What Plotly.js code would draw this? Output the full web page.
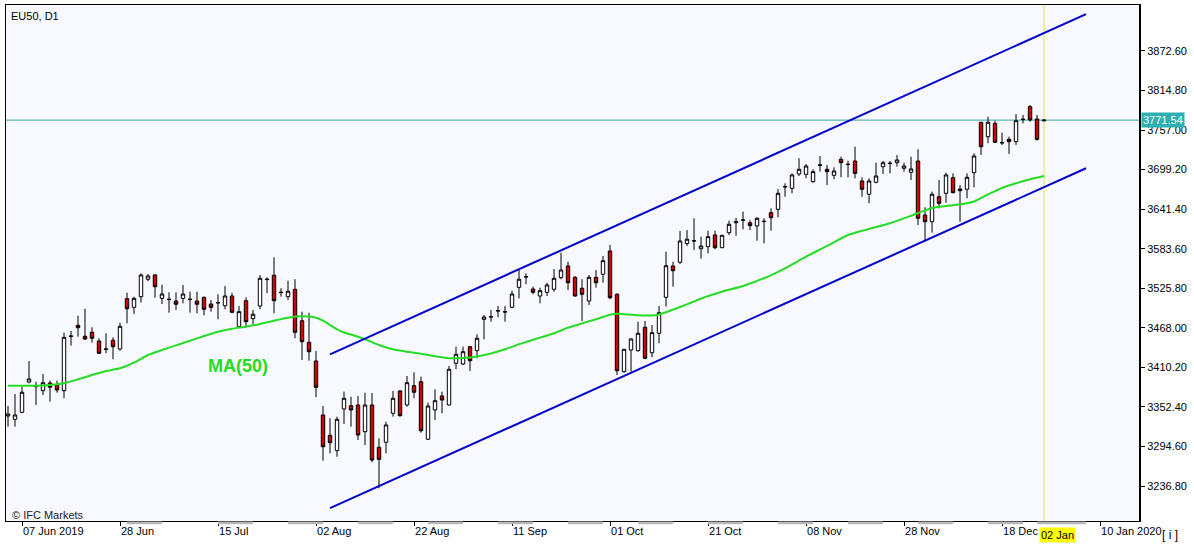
<!DOCTYPE html>
<html>
<head>
<meta charset="utf-8">
<script src="https://cdn.plot.ly/plotly-3.0.1.min.js"></script>
<style>
html,body{margin:0;padding:0;background:#fff;}
#chart{width:1194px;height:545px;}
</style>
</head>
<body>
<div id="chart"></div>
<script>
// ---- Data ----
const symbol = "EU50, D1";
const openP = [
3339.1,3334.3,3344.5,3388.8,3382.0,3376.1,3387.4,3384.4,3376.1,3455.5,
3471.7,3455.6,3461.5,3448.7,3436.5,3449.8,3437.0,3510.6,3498.0,3513.5,
3539.0,3545.2,3511.1,3509.2,3507.2,3511.1,3509.2,3507.2,3512.6,3502.8,
3504.3,3500.3,3514.5,3469.6,3507.6,3481.3,3499.9,3538.5,3544.8,3519.4,
3513.5,3524.3,3478.4,3446.8,3419.5,3340.6,3310.9,3288.4,3349.4,3354.2,
3355.2,3316.2,3355.2,3293.4,3300.7,3343.1,3375.7,3355.2,3383.4,3389.3,
3305.1,3347.9,3368.4,3355.2,3416.1,3415.1,3440.4,3434.6,3480.4,3483.8,
3492.5,3491.6,3498.0,3527.2,3542.2,3524.7,3514.5,3519.9,3524.3,3541.3,
3558.4,3541.8,3525.8,3507.2,3541.8,3546.2,3580.3,3517.0,3403.9,3435.6,
3434.6,3468.8,3431.6,3460.0,3512.6,3558.4,3563.8,3591.2,3594.8,3583.6,
3586.6,3603.7,3585.1,3607.0,3621.5,3625.1,3621.6,3616.8,3623.2,3636.3,
3641.2,3673.8,3671.9,3692.8,3692.4,3681.6,3705.5,3699.7,3690.9,3714.3,
3706.5,3711.8,3682.6,3663.2,3680.7,3703.5,3708.0,3709.3,3701.2,3695.3,
3711.8,3632.9,3623.1,3659.6,3664.6,3687.4,3670.9,3670.5,3694.7,3768.4,
3747.3,3766.9,3738.1,3743.5,3740.0,3772.3,3791.2,3773.2,3770.5];
const highP = [
3353.7,3371.3,3381.9,3419.5,3389.3,3400.5,3390.7,3390.7,3460.9,3463.4,
3485.7,3495.9,3468.8,3452.7,3460.0,3454.1,3475.5,3519.3,3513.5,3547.7,
3546.7,3546.7,3531.0,3519.9,3519.9,3530.6,3520.8,3520.8,3513.5,3508.7,
3517.0,3529.1,3519.3,3499.9,3512.6,3494.0,3545.2,3541.8,3571.1,3525.8,
3536.9,3539.0,3491.6,3490.1,3434.1,3353.7,3335.8,3338.1,3374.6,3367.3,
3368.4,3373.2,3372.7,3306.5,3330.8,3375.7,3377.1,3397.6,3403.0,3396.6,
3358.6,3378.1,3374.6,3412.2,3440.4,3440.4,3441.4,3458.5,3486.7,3494.0,
3499.9,3499.9,3522.3,3552.5,3547.7,3528.1,3526.6,3533.9,3554.0,3577.8,
3564.6,3543.7,3539.0,3545.2,3552.5,3573.0,3589.1,3518.5,3437.0,3452.7,
3476.9,3478.0,3472.1,3499.9,3579.3,3564.6,3609.5,3611.0,3628.1,3601.2,
3610.0,3610.0,3603.7,3624.6,3628.5,3637.8,3625.6,3629.5,3628.1,3642.7,
3670.9,3679.2,3693.8,3715.8,3707.5,3699.7,3719.1,3706.0,3702.6,3718.1,
3712.3,3732.7,3688.0,3686.5,3709.3,3711.8,3711.8,3720.6,3709.3,3718.1,
3728.9,3644.2,3667.0,3684.1,3694.7,3693.8,3676.7,3693.8,3723.1,3769.0,
3776.6,3770.7,3753.2,3747.3,3780.5,3779.1,3793.7,3779.1,3773.0];
const lowP = [
3323.5,3323.5,3343.1,3386.9,3355.2,3369.8,3360.0,3373.2,3365.0,3441.9,
3455.0,3450.2,3446.3,3429.5,3430.8,3422.0,3434.6,3474.6,3488.2,3504.8,
3536.0,3512.0,3502.8,3490.1,3494.0,3503.8,3490.1,3489.2,3486.3,3491.6,
3480.4,3495.1,3489.2,3467.3,3468.8,3473.1,3495.1,3518.5,3489.2,3513.5,
3508.7,3452.7,3421.0,3419.9,3366.5,3273.8,3284.6,3279.6,3327.4,3323.5,
3304.0,3296.7,3271.5,3233.4,3284.6,3338.1,3338.1,3352.7,3365.0,3314.7,
3304.0,3333.3,3343.1,3354.5,3407.4,3413.6,3404.9,3423.5,3451.2,3476.9,
3483.4,3476.9,3496.5,3511.1,3531.6,3517.0,3503.8,3514.5,3520.8,3539.0,
3523.3,3513.5,3478.0,3501.4,3526.6,3533.9,3509.7,3399.0,3402.4,3403.9,
3433.1,3422.0,3424.9,3445.4,3498.9,3528.1,3561.3,3587.6,3581.7,3569.0,
3576.9,3582.8,3584.6,3603.7,3602.6,3612.0,3611.0,3595.3,3591.5,3610.0,
3629.5,3659.6,3664.6,3689.9,3686.5,3680.1,3696.2,3676.7,3685.1,3688.0,
3688.0,3686.5,3659.6,3650.0,3679.2,3692.8,3693.8,3703.5,3696.2,3684.1,
3618.3,3593.9,3607.0,3642.7,3650.9,3664.6,3623.1,3657.3,3673.4,3720.6,
3737.7,3738.6,3735.2,3722.1,3735.2,3766.9,3769.3,3741.5,3769.5];
const closeP = [
3342.0,3340.6,3373.8,3393.2,3383.0,3387.8,3381.1,3377.1,3454.1,3456.0,
3468.2,3451.7,3452.7,3430.8,3437.0,3440.4,3470.2,3495.9,3511.1,3545.2,
3543.7,3528.1,3517.4,3509.7,3502.4,3517.4,3509.7,3502.4,3495.1,3498.0,
3504.8,3514.5,3490.7,3491.6,3476.9,3487.8,3540.4,3539.0,3507.6,3519.9,
3521.4,3461.5,3447.7,3433.1,3381.1,3294.2,3300.1,3334.3,3365.0,3347.9,
3311.3,3355.2,3274.8,3275.8,3326.0,3365.0,3339.6,3387.8,3373.8,3317.6,
3353.7,3361.5,3362.5,3407.4,3429.3,3433.1,3419.9,3452.7,3483.8,3484.2,
3493.0,3491.1,3517.4,3539.0,3542.7,3519.9,3522.3,3530.6,3540.4,3552.5,
3533.9,3514.5,3517.0,3541.8,3533.9,3566.1,3512.0,3405.3,3436.6,3451.7,
3460.0,3423.5,3460.9,3490.1,3558.8,3551.5,3594.9,3597.5,3595.3,3587.6,
3601.2,3585.1,3603.2,3619.3,3623.1,3625.6,3617.3,3628.1,3623.7,3629.0,
3664.6,3674.3,3691.4,3699.7,3704.5,3696.2,3706.0,3696.2,3697.2,3709.3,
3707.0,3693.8,3670.5,3682.6,3689.9,3709.3,3708.5,3713.3,3704.5,3700.2,
3628.1,3623.1,3663.2,3650.0,3691.4,3665.5,3668.4,3688.0,3719.1,3732.7,
3768.4,3739.2,3738.6,3740.0,3770.7,3772.8,3771.8,3743.5,3771.54];

// MA(50) at these bar numbers
const maBar = [0,4,6,8,10,12,14,16,18,20,22,24,26,28,30,32,34,36,38,40,42,44,45,46,47,48,49,51,53,55,57,59,61,63,65,67,69,71,73,74,76,78,80,82,84,86,87,88,90,92,93,94,96,98,99,102,105,108,111,114,117,120,123,126,129,132,135,137,138,140,142,144,146,148];
const maVal = [3383.4,3383.4,3384.4,3386.9,3392.7,3399.0,3404.9,3408.8,3417.0,3428.3,3435.6,3442.4,3449.2,3456.0,3462.3,3466.7,3469.6,3473.6,3478.4,3482.8,3484.8,3482.8,3478.4,3472.1,3465.8,3461.2,3458.2,3451.2,3442.9,3436.6,3433.0,3430.0,3426.5,3423.5,3423.9,3426.1,3430.5,3436.6,3443.9,3447.3,3453.6,3460.0,3468.2,3474.5,3480.5,3487.0,3488.6,3487.9,3486.3,3486.0,3487.5,3490.8,3498.4,3506.5,3510.9,3520.8,3529.1,3540.4,3555.0,3572.0,3587.6,3603.7,3612.4,3620.8,3631.7,3643.1,3647.2,3650.0,3652.6,3662.9,3672.4,3679.2,3685.1,3689.9];

// Trend channel (two end points each)
const channelBar = [46, 154];
const channelUpper = [3429.3, 3926.4];
const channelLower = [3204.5, 3701.2];

const lastPrice = 3771.54;
const cursorBar = 148;
const cursorLabel = "02 Jan";

const dateTickBars = [2,16,30,44,58,72,86,100,114,128,142,156];
const dateTickLabels = ["07 Jun 2019","28 Jun","15 Jul","02 Aug","22 Aug","11 Sep","01 Oct","21 Oct","08 Nov","28 Nov","18 Dec","10 Jan 2020"];
const priceTicks = [3236.8,3294.6,3352.4,3410.2,3468.0,3525.8,3583.6,3641.4,3699.2,3757.0,3814.8,3872.6];

// alternate-week marks along the time axis (first bar, last bar)
const weekMarkStart = [17,30,40,50,60,70,80,90,100,110,120,130,140,147];
const weekMarkEnd   = [22,35,45,55,65,75,85,95,105,115,125,135,145,154];

const barIndex = closeP.map((_, i) => i);

const FONT = "Liberation Sans, Arial, sans-serif";

const traces = [
  {
    type: "candlestick",
    x: barIndex, open: openP, high: highP, low: lowP, close: closeP,
    increasing: {line: {color: "#000000", width: 1}, fillcolor: "#ffffff"},
    decreasing: {line: {color: "#000000", width: 1}, fillcolor: "#d40000"},
    whiskerwidth: 0,
    hoverinfo: "skip",
    showlegend: false
  },
  {
    type: "scatter", mode: "lines",
    x: maBar, y: maVal,
    line: {color: "#26dd26", width: 2, shape: "spline", smoothing: 0.6},
    hoverinfo: "skip", showlegend: false
  },
  {
    type: "scatter", mode: "lines",
    x: channelBar, y: channelUpper,
    line: {color: "#0000cc", width: 2},
    hoverinfo: "skip", showlegend: false
  },
  {
    type: "scatter", mode: "lines",
    x: channelBar, y: channelLower,
    line: {color: "#0000cc", width: 2},
    hoverinfo: "skip", showlegend: false
  }
];

const shapes = [
  {type: "line", xref: "paper", x0: 0, x1: 1, yref: "y", y0: lastPrice, y1: lastPrice,
   line: {color: "#3aa6a6", width: 1}, layer: "below"},
  {type: "line", xref: "x", x0: cursorBar, x1: cursorBar, yref: "paper", y0: 0, y1: 1,
   line: {color: "#e4e44a", width: 1}, layer: "below"},
  {type: "line", xref: "paper", x0: 1, x1: 1, yref: "paper", y0: 0, y1: 1,
   line: {color: "#000000", width: 2}}
];
weekMarkStart.forEach((s, k) => {
  shapes.push({type: "rect", xref: "x", x0: s, x1: weekMarkEnd[k], yref: "paper", y0: -0.0065, y1: -0.001,
    line: {width: 0}, fillcolor: "#b8b8b8"});
});

const layout = {
  width: 1194, height: 545,
  margin: {l: 6, r: 54, t: 5, b: 24, pad: 0},
  paper_bgcolor: "#ffffff",
  plot_bgcolor: "#f8f8ff",
  font: {family: FONT, size: 11, color: "#000000"},
  showlegend: false,
  hovermode: false,
  xaxis: {
    range: [-0.286, 161.71],
    showgrid: false, zeroline: false,
    showline: true, linecolor: "#000000", linewidth: 1, mirror: true,
    ticks: "outside", ticklen: 4, tickcolor: "#000000",
    tickvals: dateTickBars, ticktext: dateTickLabels,
    ticklabelposition: "outside right",
    tickfont: {family: FONT, size: 11, color: "#000000"},
    rangeslider: {visible: false},
    fixedrange: true
  },
  yaxis: {
    side: "right",
    range: [3185.65, 3939.8],
    showgrid: false, zeroline: false,
    showline: true, linecolor: "#000000", linewidth: 1, mirror: true,
    ticks: "outside", ticklen: 4, tickcolor: "#000000",
    tickvals: priceTicks, tickformat: ".2f",
    tickfont: {family: FONT, size: 11, color: "#000000"},
    fixedrange: true
  },
  shapes: shapes,
  annotations: [
    {text: symbol, xref: "paper", x: 0, xanchor: "left", xshift: 3,
     yref: "paper", y: 1, yanchor: "top", yshift: -3, showarrow: false,
     font: {family: FONT, size: 11, color: "#000000"}},
    {text: "MA(50)", xref: "x", x: 32.8, yref: "y", y: 3412, showarrow: false,
     font: {family: FONT, size: 18, color: "#22dd22", weight: "bold"}},
    {text: "© IFC Markets", xref: "paper", x: 0, xanchor: "left", xshift: 4,
     yref: "paper", y: 0, yanchor: "bottom", yshift: -2, showarrow: false,
     font: {family: FONT, size: 11, color: "#222222"}},
    {text: lastPrice.toFixed(2), xref: "paper", x: 1, xanchor: "left", xshift: 1,
     yref: "y", y: lastPrice, showarrow: false, bgcolor: "#2fb0b0",
     borderpad: 1, font: {family: FONT, size: 11, color: "#ffffff"}},
    {text: cursorLabel, xref: "x", x: cursorBar, xanchor: "left", xshift: -5,
     yref: "paper", y: 0, yanchor: "top", yshift: -6, showarrow: false,
     bgcolor: "#ffff00", borderpad: 1, font: {family: FONT, size: 11, color: "#000000"}},
    {text: "[ i ]", xref: "paper", x: 1, xanchor: "left", xshift: 20,
     yref: "paper", y: 0, yanchor: "top", yshift: -5, showarrow: false,
     font: {family: FONT, size: 12, color: "#000000"}}
  ]
};

Plotly.newPlot("chart", traces, layout, {displayModeBar: false, staticPlot: true});
</script>
</body>
</html>
